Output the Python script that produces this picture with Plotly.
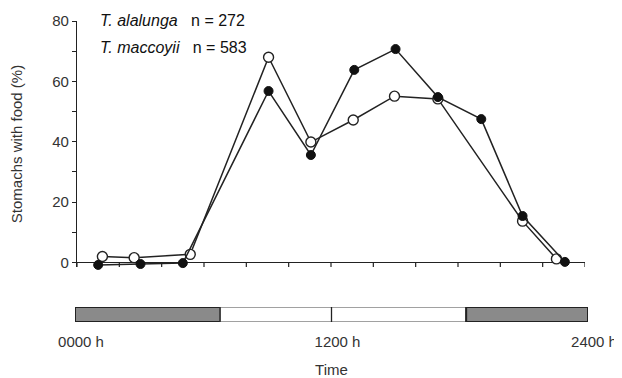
import plotly.graph_objects as go

# ---- data ----
alalunga_hours = [1.0, 3.0, 5.0, 9.05, 11.05, 13.1, 15.05, 17.05, 19.1, 21.05, 23.05]
alalunga_pct = [-0.8, -0.5, -0.2, 56.8, 35.6, 63.8, 70.7, 54.8, 47.5, 15.4, 0.2]

maccoyii_hours = [1.2, 2.7, 5.35, 9.05, 11.05, 13.05, 15.0, 17.05, 21.05, 22.65]
maccoyii_pct = [2.0, 1.6, 2.7, 68.0, 39.9, 47.2, 55.1, 54.2, 13.7, 1.2]

legend_species = ["T. alalunga", "T. maccoyii"]
legend_n = [272, 583]

y_tick_vals = [0, 20, 40, 60, 80]
x_tick_hours = list(range(0, 25, 2))

bar_bounds = [0, 6.8, 18.3, 24]
bar_phase = ["dark", "light", "dark"]
bar_mid_hour = 12
bar_tick_vals = [0, 12, 24]
bar_tick_text = ["0000 h", "1200 h", "2400 h"]

# ---- layout geometry (pixels, in reference-image coordinates) ----
OFF = 8                 # page body margin applied by the browser
W, H = 622 - OFF, 378 - OFF
L, R = 75, 588          # paper x extent (reference px)
T, B = 21, 323          # paper y extent (reference px)
pw, ph = R - L, B - T

def px_x(p):
    return (p - L) / pw

def px_y(p):
    return (B - p) / ph

ink = "#222222"
txt = "#333333"
font_family = "Liberation Sans, Arial, sans-serif"
fs = 15

y_min = -1.5
y_max = 80
y0_px, y80_px = 262.5, 21
upp = (y0_px - y80_px) / y_max
ybottom_px = y0_px - y_min * upp

fig = go.Figure()

fig.add_trace(go.Scatter(
    x=maccoyii_hours, y=maccoyii_pct, mode="lines+markers",
    line=dict(color=ink, width=1.5),
    marker=dict(symbol="circle", size=10, color="white", line=dict(color=ink, width=1.4)),
    cliponaxis=False, showlegend=False,
))
fig.add_trace(go.Scatter(
    x=alalunga_hours, y=alalunga_pct, mode="lines+markers",
    line=dict(color=ink, width=1.5),
    marker=dict(symbol="circle", size=9, color="#111111", line=dict(color="#111111", width=1)),
    cliponaxis=False, showlegend=False,
))

# invisible trace to anchor the bar axes
fig.add_trace(go.Scatter(x=[0, 24], y=[0, 1], xaxis="x2", yaxis="y2",
                         mode="markers", marker=dict(opacity=0), showlegend=False,
                         hoverinfo="skip"))

# photoperiod bar
for i, ph_name in enumerate(bar_phase):
    fig.add_shape(type="rect", xref="x2", yref="y2",
                  x0=bar_bounds[i], x1=bar_bounds[i + 1], y0=0, y1=1,
                  fillcolor="#8a8a8a" if ph_name == "dark" else "white",
                  line=dict(color=ink if ph_name == "dark" else "#444444",
                            width=2 if ph_name == "dark" else 1.2))
fig.add_shape(type="line", xref="x2", yref="y2", x0=bar_mid_hour, x1=bar_mid_hour,
              y0=0, y1=1.1, line=dict(color=ink, width=1.3))

# species annotations
for i, (sp, n) in enumerate(zip(legend_species, legend_n)):
    fig.add_annotation(xref="paper", yref="paper", x=px_x(98), y=px_y(20 + 27 * i),
                       xanchor="left", yanchor="middle", showarrow=False,
                       text=f"<i>{sp}</i>&nbsp;&nbsp; n = {n}",
                       font=dict(family=font_family, size=16, color="#111111"))

main_x0 = px_x(77)
main_x1 = px_x(585)

fig.update_layout(
    width=W, height=H,
    margin=dict(l=L - OFF, r=622 - R, t=T - OFF, b=378 - B, pad=0, autoexpand=False),
    paper_bgcolor="white", plot_bgcolor="white",
    font=dict(family=font_family, size=fs, color=txt),
    xaxis=dict(domain=[main_x0, main_x1], range=[0, 24], tickvals=x_tick_hours,
               showticklabels=False, ticks="", showline=False,
               showgrid=False, zeroline=False, anchor="y", automargin=False),
    yaxis=dict(domain=[px_y(ybottom_px), 1.0], range=[y_min, y_max], tickvals=y_tick_vals,
               ticks="outside", ticklen=4, tickwidth=1.2, tickcolor=ink,
               showline=True, linecolor=ink, linewidth=1.3, showgrid=False,
               zeroline=True, zerolinecolor=ink, zerolinewidth=1.3,
               tickfont=dict(size=fs, color=txt), automargin=False,
               minor=dict(dtick=10, ticks="outside", ticklen=4, tickwidth=1.2, tickcolor=ink),
               title=dict(text="Stomachs with food (%)", standoff=32,
                          font=dict(size=fs, color=txt)),
               anchor="x"),
    xaxis2=dict(domain=[0, 1], range=[0, 24], tickvals=bar_tick_vals, ticktext=bar_tick_text,
                ticks="", showline=False, showgrid=False, zeroline=False,
                ticklabelshift=6, ticklabelstandoff=9, automargin=False,
                tickfont=dict(size=fs, color=txt),
                title=dict(text="Time", standoff=15, font=dict(size=fs, color=txt)),
                anchor="y2"),
    yaxis2=dict(domain=[px_y(322), px_y(307)], range=[0, 1], visible=False, anchor="x2"),
)

# x-axis tick marks hanging below the zero line
tick_len_units = 5 / upp
for h in x_tick_hours:
    fig.add_shape(type="line", xref="x", yref="y", x0=h, x1=h,
                  y0=0, y1=-tick_len_units, line=dict(color=ink, width=1.2))

fig.write_html("out.html")
